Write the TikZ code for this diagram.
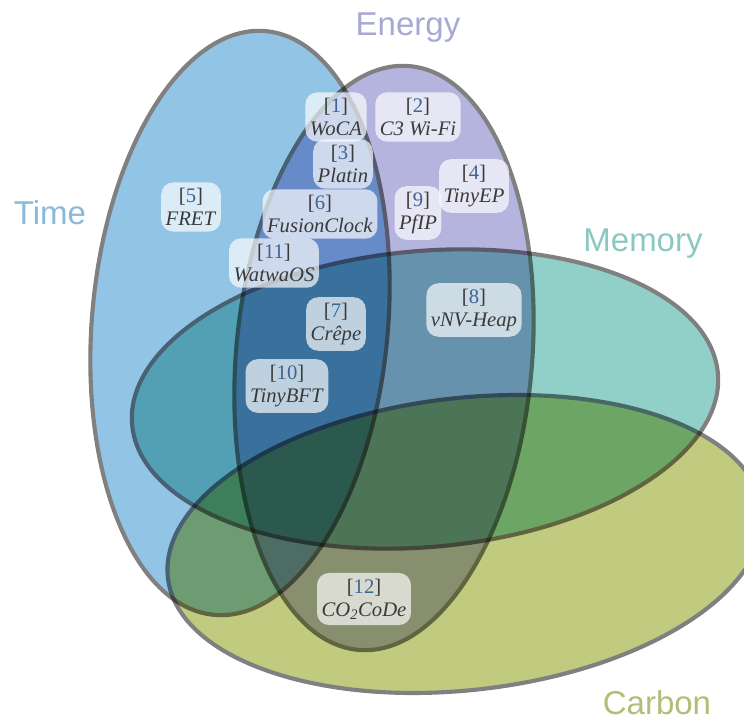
\documentclass[tikz,border=0pt]{standalone}
\usepackage{fontspec}
\setmainfont{Liberation Serif}
\newfontfamily\labelfont{Liberation Sans}
\definecolor{timefill}{RGB}{146,196,230}
\definecolor{energyfill}{RGB}{180,180,222}
\definecolor{memoryfill}{RGB}{145,208,200}
\definecolor{carbonfill}{RGB}{192,203,128}
\definecolor{rimgray}{RGB}{128,128,128}
\definecolor{reftext}{RGB}{58,58,58}
\definecolor{refnum}{RGB}{62,100,150}
\definecolor{timelabel}{RGB}{138,186,218}
\definecolor{energylabel}{RGB}{168,168,212}
\definecolor{memorylabel}{RGB}{138,200,192}
\definecolor{carbonlabel}{RGB}{178,190,118}
\newcommand{\refentry}[2]{[\textcolor{refnum}{#1}]\\\textit{#2}}
\tikzset{
  setshape/.style={draw=rimgray, line width=3.1pt},
  refbox/.style={fill=white, fill opacity=0.68, text opacity=1,
    rounded corners=9pt, inner xsep=3.4pt, inner ysep=4.3pt, align=center,
    font=\fontsize{15.5}{17.5}\selectfont, text=reftext},
  setlabel/.style={font=\labelfont\fontsize{24.75}{28}\selectfont, inner sep=0pt}
}
\begin{document}
\begin{tikzpicture}[x=0.75pt, y=-0.75pt]
\useasboundingbox (0,0) rectangle (744,720);
\begin{scope}
\clip (0,0) rectangle (744,720);
% each set is painted as one group (rim over fill), and the groups
% overlap by colour multiplication
\begin{scope}[blend mode=multiply]
  \begin{scope}[transparency group]
    \draw[setshape, fill=timefill, rotate around={-5:(240,323)}]
      (240,323) ellipse [x radius=148, y radius=293];
  \end{scope}
  \begin{scope}[transparency group]
    \draw[setshape, fill=energyfill, rotate around={-5:(384,358)}]
      (384,358) ellipse [x radius=148, y radius=293];
  \end{scope}
  \begin{scope}[transparency group]
    \draw[setshape, fill=memoryfill, rotate around={5:(425,399)}]
      (425,399) ellipse [x radius=294, y radius=148];
  \end{scope}
  \begin{scope}[transparency group]
    \draw[setshape, fill=carbonfill, rotate around={6.5:(465,544)}]
      (465,544) ellipse [x radius=299, y radius=146];
  \end{scope}
\end{scope}
\end{scope}

% set names
\node[setlabel, text=timelabel]   (time)   at (50,213)  {Time};
\node[setlabel, text=energylabel] (energy) at (408,28)  {Energy};
\node[setlabel, text=memorylabel] (memory) at (643,244) {Memory};
\node[setlabel, text=carbonlabel] (carbon) at (657,703) {Carbon};

% references placed in their regions
\node[refbox] (r1)  at (336,117) {\refentry{1}{WoCA}};
\node[refbox] (r2)  at (418,117) {\refentry{2}{C3 Wi-Fi}};
\node[refbox] (r3)  at (343,164) {\refentry{3}{Platin}};
\node[refbox] (r4)  at (474,186) {\refentry{4}{TinyEP}};
\node[refbox] (r9)  at (418,213) {\refentry{9}{PfIP}};
\node[refbox] (r5)  at (191,207) {\refentry{5}{FRET}};
\node[refbox] (r6)  at (320,214) {\refentry{6}{FusionClock}};
\node[refbox] (r11) at (274,263) {\refentry{11}{WatwaOS}};
\node[refbox] (r8)  at (474,310) {\refentry{8}{vNV-Heap}};
\node[refbox] (r7)  at (336,324) {\refentry{7}{Crêpe}};
\node[refbox] (r10) at (287,386) {\refentry{10}{TinyBFT}};
\node[refbox] (r12) at (364,599) {\refentry{12}{CO\textsubscript{2}CoDe}};
\end{tikzpicture}
\end{document}
